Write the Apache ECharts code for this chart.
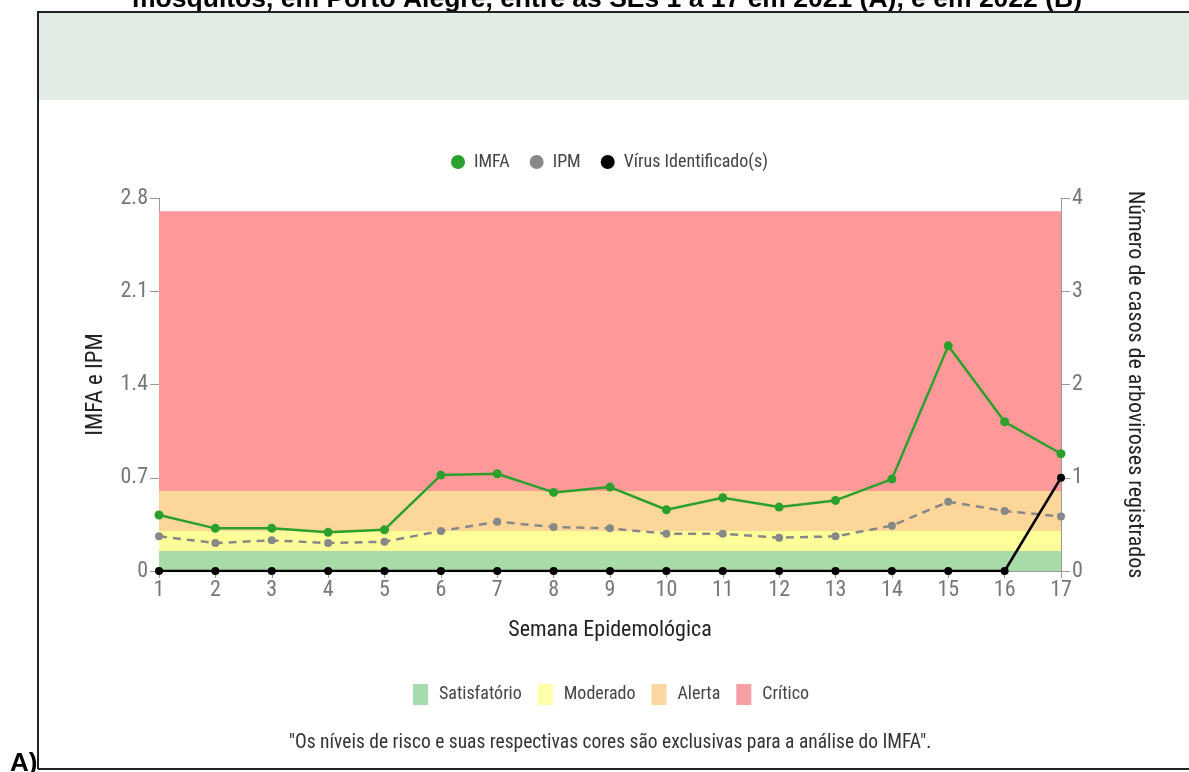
<!DOCTYPE html>
<html>
<head>
<meta charset="utf-8">
<style>
html,body{margin:0;padding:0;background:#fff;}
#chart{width:1189px;height:772px;}
</style>
<script src="https://cdn.jsdelivr.net/npm/echarts@6/dist/echarts.min.js"></script>
</head>
<body>
<div id="chart"></div>
<script>
const weeks = ['1','2','3','4','5','6','7','8','9','10','11','12','13','14','15','16','17'];
const imfa = [0.42,0.32,0.32,0.29,0.31,0.72,0.73,0.59,0.63,0.46,0.55,0.48,0.53,0.69,1.69,1.12,0.88];
const ipm  = [0.26,0.21,0.23,0.21,0.22,0.30,0.37,0.33,0.32,0.28,0.28,0.25,0.26,0.34,0.52,0.45,0.41];
const virus = [0,0,0,0,0,0,0,0,0,0,0,0,0,0,0,0,1];
const leftTicks = [0,0.7,1.4,2.1,2.8];
const rightTicks = [0,1,2,3,4];
const bandNames = ['Satisfatório','Moderado','Alerta','Crítico'];
const bandLimits = [0,0.15,0.3,0.6,2.7];
const bandColors = ['#a9dba9','#ffff99','#fcd799','#ff9999'];
const legendColors = ['#a6dbb0','#ffffaa','#fad7a0','#f5a0a5'];

const FONT = '"Roboto Condensed","Liberation Sans Narrow","DejaVu Sans Condensed",sans-serif';
const chart = echarts.init(document.getElementById('chart'));

const bandSeries = bandNames.map((n,i)=>({
  name:n, type:'line', data:[], yAxisIndex:0,
  itemStyle:{color:legendColors[i]}, lineStyle:{color:legendColors[i]},
  silent:true,
  markArea:{silent:true, itemStyle:{color:bandColors[i], opacity:1},
    data:[[{yAxis:bandLimits[i]},{yAxis:bandLimits[i+1]}]]}
}));

chart.setOption({
  animation:false,
  textStyle:{fontFamily:FONT},
  grid:{left:159, right:128, top:198, bottom:201},
  legend:[
    {data:['IMFA','IPM','Vírus Identificado(s)'], top:148, left:446,
     icon:'circle', itemWidth:14, itemHeight:14, itemGap:20,
     textStyle:{fontFamily:FONT, fontSize:18, color:'#444', padding:[0,0,0,4]}},
    {data:bandNames, top:679, left:408, icon:'rect', itemWidth:15, itemHeight:21, itemGap:16,
     textStyle:{fontFamily:FONT, fontSize:18, color:'#444', padding:[0,0,0,6]}}
  ],
  xAxis:{type:'category', data:weeks, boundaryGap:false,
    name:'Semana Epidemológica', nameLocation:'middle', nameGap:48,
    nameTextStyle:{fontFamily:FONT, fontSize:22, color:'#222'},
    axisLine:{lineStyle:{color:'#999'}},
    axisTick:{show:true, alignWithLabel:true, length:7, lineStyle:{color:'#999'}},
    axisLabel:{fontFamily:FONT, fontSize:22, color:'#777', margin:8}},
  yAxis:[
    {type:'value', min:0, max:2.8, interval:0.7, position:'left',
     name:'IMFA e IPM', nameLocation:'middle', nameGap:51,
     nameTextStyle:{fontFamily:FONT, fontSize:23, color:'#222'},
     axisLine:{show:true, lineStyle:{color:'#999'}},
     axisTick:{show:true, length:9, lineStyle:{color:'#999'}},
     splitLine:{show:false},
     axisLabel:{fontFamily:FONT, fontSize:22, color:'#777', margin:11,
       formatter:v=>{const t=leftTicks.find(x=>Math.abs(x-v)<1e-6); return t===0?'0':(t!==undefined?t.toFixed(1):'');}}},
    {type:'value', min:0, max:4, interval:1, position:'right',
     name:'Número de casos de arboviroses registrados', nameLocation:'middle', nameGap:62, nameRotate:-90,
     nameTextStyle:{fontFamily:FONT, fontSize:22, color:'#222'},
     axisLine:{show:true, lineStyle:{color:'#999'}},
     axisTick:{show:true, length:9, lineStyle:{color:'#999'}},
     splitLine:{show:false},
     axisLabel:{fontFamily:FONT, fontSize:22, color:'#777', margin:11,
       formatter:v=>String(rightTicks.find(x=>x===v) ?? '')}}
  ],
  series:[
    ...bandSeries,
    {name:'IPM', type:'line', data:ipm, yAxisIndex:0, symbol:'circle', symbolSize:8, z:3,
     itemStyle:{color:'#888'}, lineStyle:{color:'#888', width:2.5, type:[8,6]}},
    {name:'IMFA', type:'line', data:imfa, yAxisIndex:0, symbol:'circle', symbolSize:9, z:4,
     itemStyle:{color:'#2ca02c'}, lineStyle:{color:'#2ca02c', width:2.5}},
    {name:'Vírus Identificado(s)', type:'line', data:virus, yAxisIndex:1, symbol:'circle', symbolSize:8, z:5,
     itemStyle:{color:'#000'}, lineStyle:{color:'#000', width:2.5}}
  ],
  graphic:[
    {type:'rect', shape:{x:39, y:13, width:1150, height:87}, style:{fill:'#e2ece4'}, z:-10, silent:true},
    {type:'polyline', shape:{points:[[38,769],[38,12],[1189,12]]}, style:{stroke:'#222', lineWidth:2, fill:null}, z:10, silent:true},
    {type:'line', shape:{x1:38, y1:769, x2:1189, y2:769}, style:{stroke:'#222', lineWidth:2}, z:10, silent:true},
    {type:'text', style:{text:'mosquitos, em Porto Alegre, entre as SEs 1 a 17 em 2021 (A), e em 2022 (B)',
      font:'bold 26.5px "Liberation Sans", Arial, sans-serif', fill:'#000', align:'center', verticalAlign:'bottom'}, position:[607,13], z:9},
    {type:'text', style:{text:'A)', font:'bold 26px "Liberation Sans", Arial, sans-serif', fill:'#000', align:'left', verticalAlign:'top'}, position:[10,751], z:10},
    {type:'text', style:{text:'"Os níveis de risco e suas respectivas cores são exclusivas para a análise do IMFA".',
      font:'19.5px "Roboto Condensed","Liberation Sans Narrow","DejaVu Sans Condensed",sans-serif', fill:'#333', align:'center', verticalAlign:'middle'}, position:[610,743], z:10}
  ]
});
</script>
</body>
</html>
